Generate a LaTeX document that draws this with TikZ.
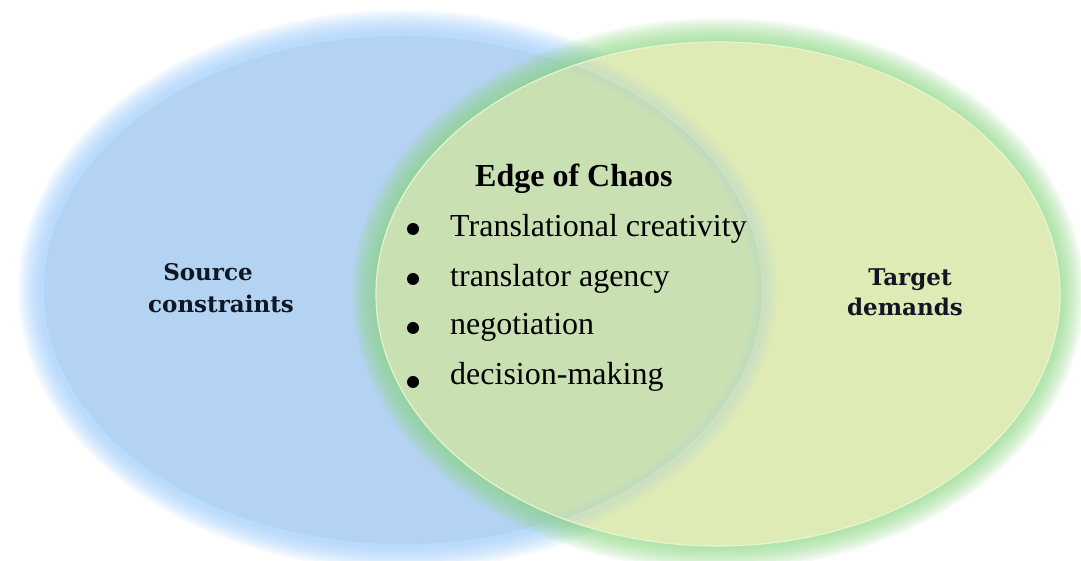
\documentclass[tikz,border=0pt]{standalone}
\usepackage{fontspec}
\setmainfont{Liberation Serif}
\newfontfamily\lblfont{DejaVu Serif}
\definecolor{bluefill}{RGB}{180,210,241}
\definecolor{blueglow}{RGB}{150,200,250}
\definecolor{greenfill}{RGB}{223,235,181}
\definecolor{greenglow}{RGB}{140,215,130}
\definecolor{midfill}{RGB}{200,224,178}
\definecolor{edgeline}{RGB}{232,246,215}
\definecolor{lbltext}{RGB}{16,22,36}
\tikzset{
  item/.style={font=\fontsize{32}{36}\selectfont, anchor=base west, inner sep=0pt},
  bul/.style={circle, fill=black, minimum size=12pt, inner sep=0pt},
  head/.style={font=\bfseries\fontsize{32}{36}\selectfont, anchor=base west, inner sep=0pt},
  lbl/.style={font=\lblfont\bfseries\fontsize{23}{28}\selectfont, text=lbltext, anchor=base, inner sep=0pt}
}
\begin{document}
\begin{tikzpicture}[x=1pt,y=1pt]
\useasboundingbox (0,0) rectangle (1081,561);
% blue circle glow + fill
\foreach \i in {1,...,12}
  \fill[blueglow, opacity=0.085] (402,271) ellipse [x radius={360+2*\i}, y radius={256+2*\i}];
\fill[bluefill] (402,271) ellipse [x radius=358, y radius=254];
% green circle glow
\foreach \i in {1,...,12}
  \fill[greenglow, opacity=0.09] (718,267) ellipse [x radius={342+2*\i}, y radius={252+2*\i}];
\fill[greenfill] (718,267) ellipse [x radius=342, y radius=252];
% intersection
\begin{scope}
  \clip (718,267) ellipse [x radius=342, y radius=252];
  \fill[midfill] (402,271) ellipse [x radius=360, y radius=256];
  \foreach \i in {1,...,6}
    \draw[color=blueglow!60!greenfill, opacity=0.07, line width={4*\i}] (402,271) ellipse [x radius=363, y radius=259];
\end{scope}
\draw[edgeline, line width=1.2pt, opacity=0.9] (718,267) ellipse [x radius=342, y radius=252];
% texts
\node[head] (head) at (475,374) {Edge of Chaos};
\node[bul] (b1) at (413,332) {};
\node[bul] (b2) at (413,282) {};
\node[bul] (b3) at (413,233) {};
\node[bul] (b4) at (413,179) {};
\node[item] (i1) at (450,324) {Translational creativity};
\node[item] (i2) at (450,274) {translator agency};
\node[item] (i3) at (450,226) {negotiation};
\node[item] (i4) at (450,176) {decision-making};
\node[lbl] (s1) at (208,280) {Source};
\node[lbl] (s2) at (221,248) {constraints};
\node[lbl] (t1) at (910,275) {Target};
\node[lbl] (t2) at (905,245) {demands};
\end{tikzpicture}
\end{document}
